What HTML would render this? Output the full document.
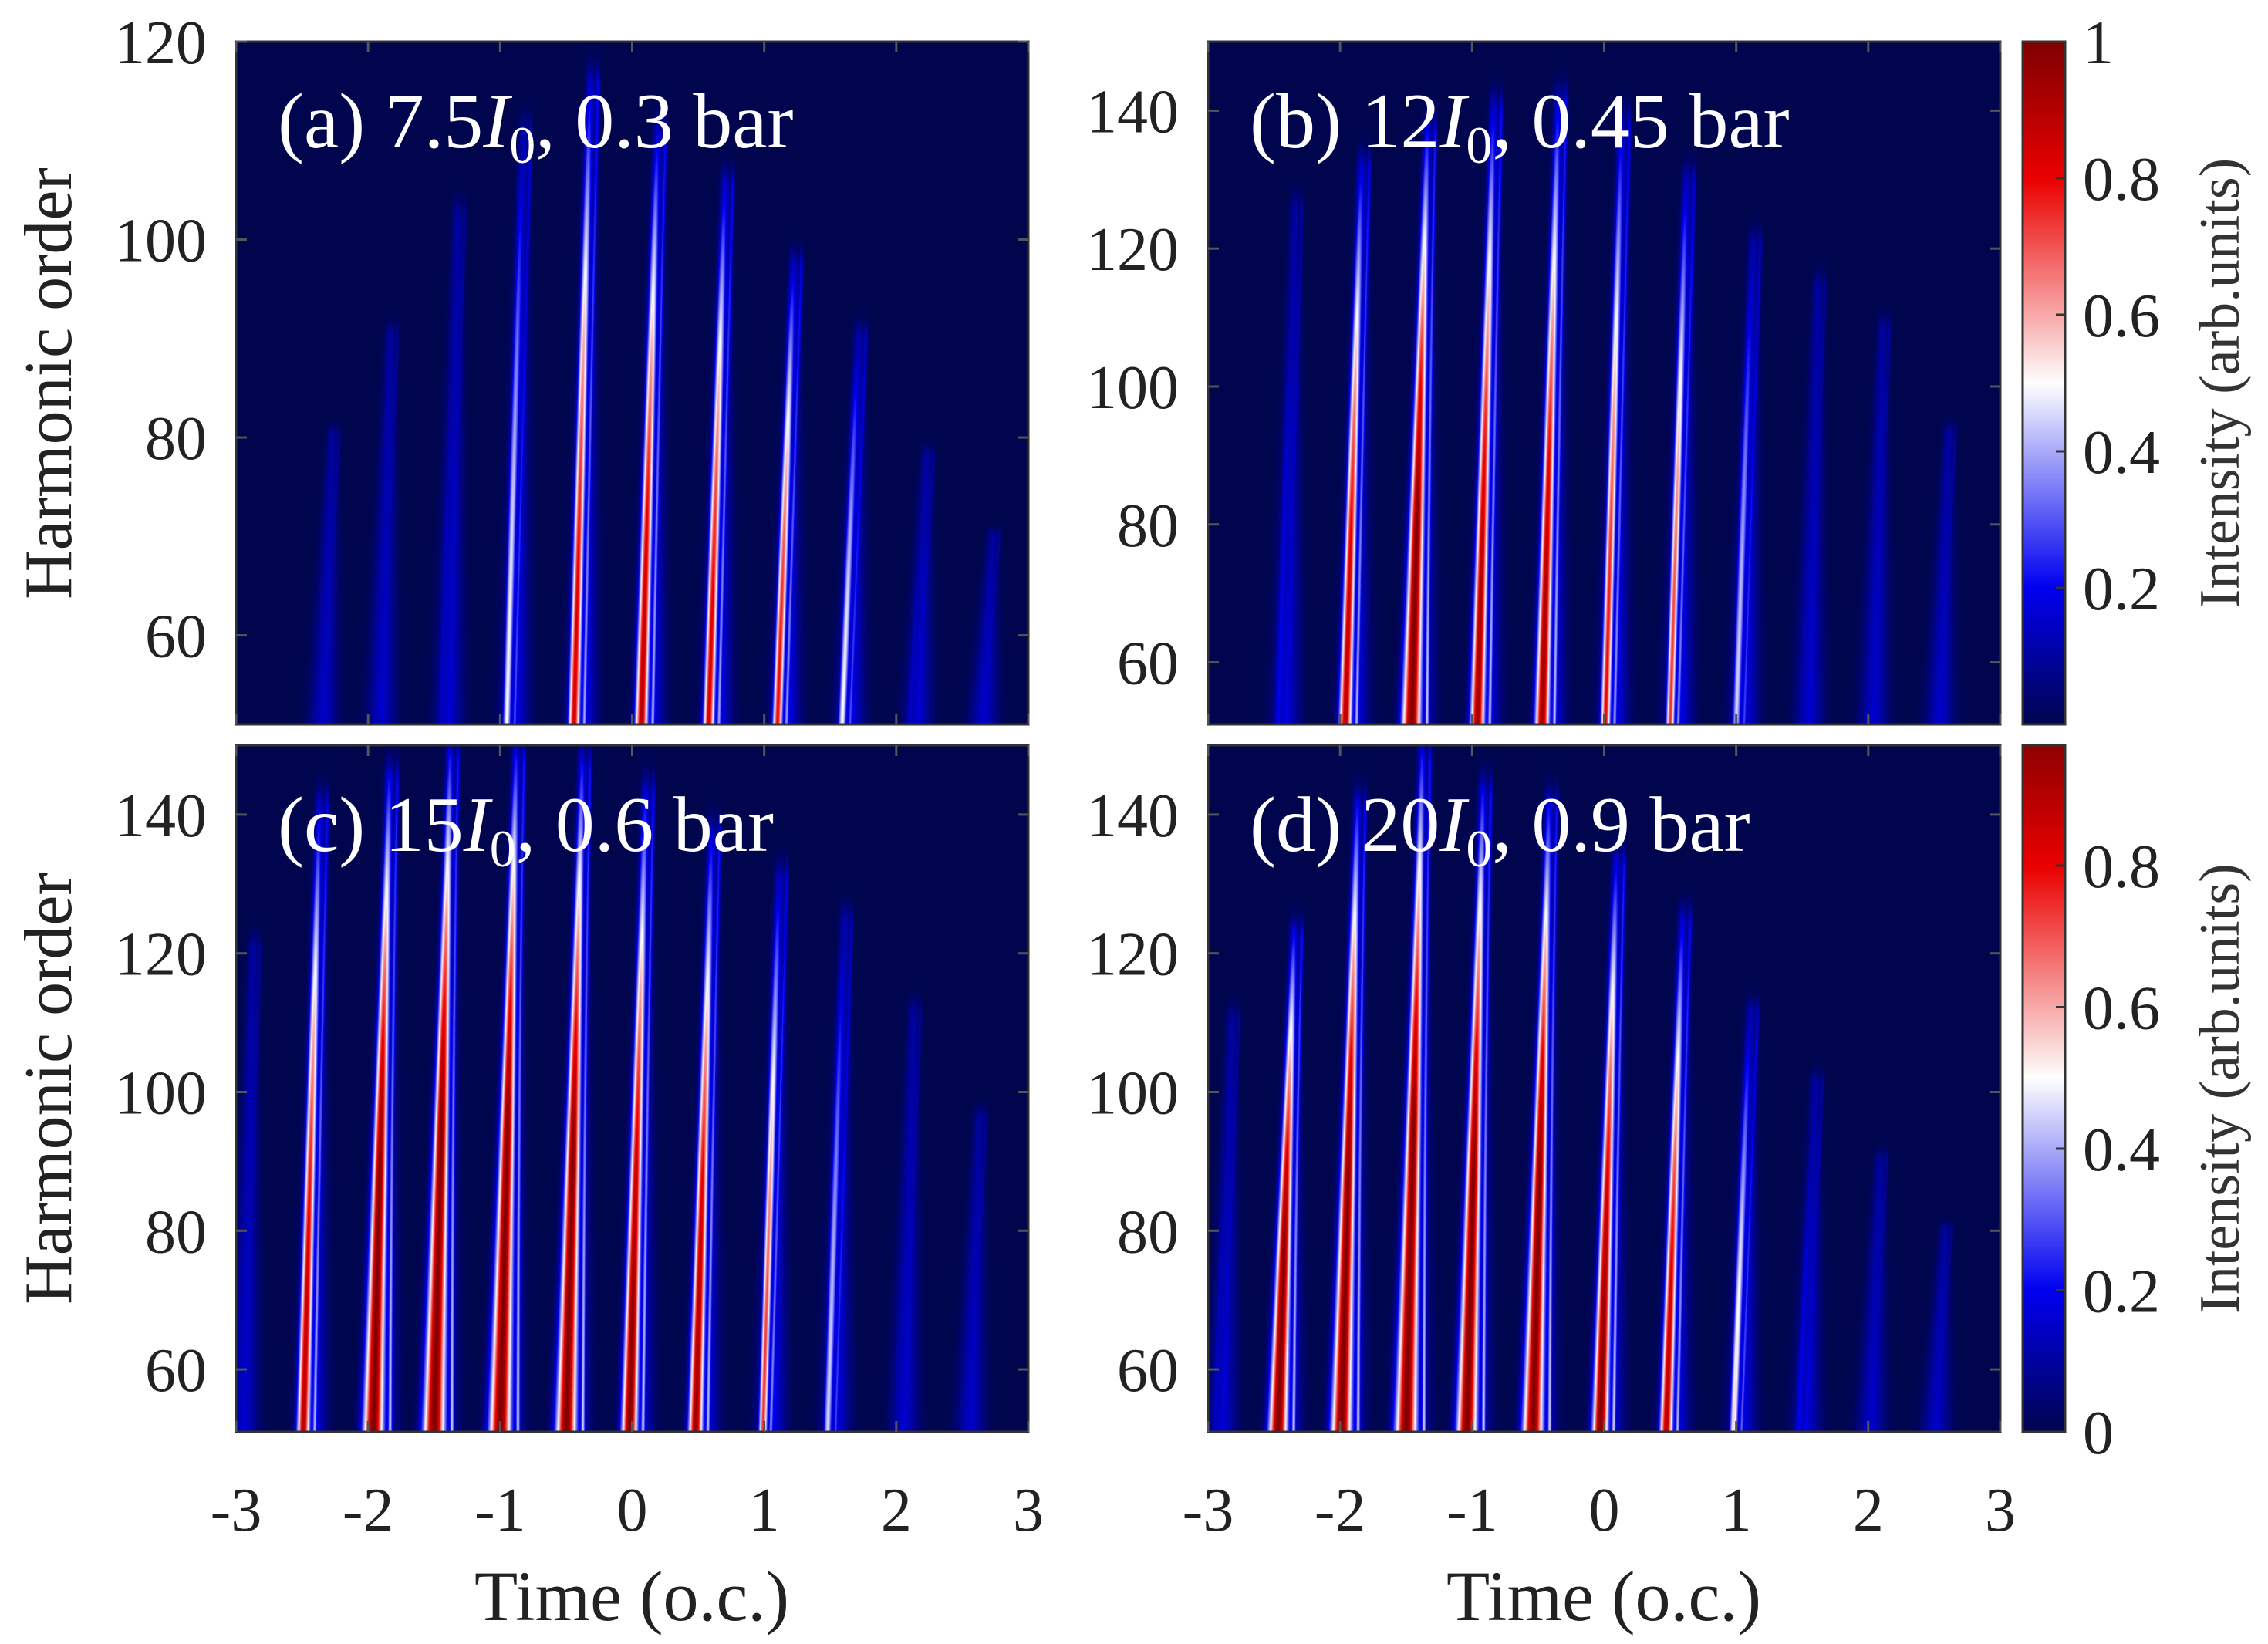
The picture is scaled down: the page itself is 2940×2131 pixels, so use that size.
<!DOCTYPE html>
<html><head><meta charset="utf-8">
<style>
html,body{margin:0;padding:0;background:#fff;}
#root{position:relative;width:2940px;height:2131px;overflow:hidden;font-family:"Liberation Serif",serif;}
canvas{position:absolute;}
svg{position:absolute;left:0;top:0;}
</style></head>
<body>
<div id="root">
<canvas id="ca" width="1027" height="885" style="left:306px;top:54px"></canvas>
<canvas id="cb" width="1027" height="885" style="left:1566px;top:54px"></canvas>
<canvas id="cc" width="1027" height="890" style="left:306px;top:966px"></canvas>
<canvas id="cd" width="1027" height="890" style="left:1566px;top:966px"></canvas>
<canvas id="cb1" width="55" height="885" style="left:2622px;top:54px"></canvas>
<canvas id="cb2" width="55" height="890" style="left:2622px;top:966px"></canvas>
<svg id="ov" width="2940" height="2131"></svg>
</div>
<script>
// Burst data per panel: bottom time (o.c.), cutoff harmonic, peak intensity
const timesA = [-2.4,-1.96,-1.45,-0.95,-0.44,0.07,0.58,1.1,1.59,2.1,2.6];
const cutA   = [80,90,102,110,115,110,105,97,90,78,70];
const peakA  = [0.05,0.1,0.15,0.5,0.85,0.9,0.85,0.8,0.5,0.15,0.1];

const timesB = [-2.47,-1.96,-1.46,-0.96,-0.47,0.01,0.5,1.0,1.49,1.98,2.48];
const cutB   = [125,131,136,139,140,137,129,120,114,108,93];
const peakB  = [0.2,0.9,1.1,0.95,0.95,0.8,0.75,0.45,0.12,0.1,0.08];

const timesC = [-3.0,-2.49,-1.96,-1.5,-1.0,-0.5,-0.02,0.48,0.99,1.48,2.0,2.5];
const cutC   = [120,140,144,147,147,146,142,136,130,124,111,96];
const peakC  = [0.12,0.9,1.15,1.2,1.2,1.15,1.0,0.95,0.75,0.45,0.12,0.08];

const timesD = [-2.95,-2.47,-1.99,-1.5,-1.04,-0.54,-0.03,0.47,0.98,1.47,1.96,2.45];
const cutD   = [110,122,140,147,142,140,132,124,111,101,90,80];
const peakD  = [0.15,1.1,1.15,1.2,1.15,1.15,1.0,0.9,0.55,0.2,0.08,0.06];

const xTicks = [-3,-2,-1,0,1,2,3];
const yTicksA = [60,80,100,120];
const yTicksB = [60,80,100,120,140];
const cbTicks1 = [0.2,0.4,0.6,0.8,1];
const cbTicks2 = [0,0.2,0.4,0.6,0.8];

const stops=[[0,[0,5,78]],[0.2,[0,0,240]],[0.5,[255,255,255]],[0.8,[235,0,0]],[1,[128,0,0]]];
function cmap(v){v=Math.max(0,Math.min(1,v));for(let i=1;i<stops.length;i++){if(v<=stops[i][0]){const a=stops[i-1],b=stops[i];const f=(v-a[0])/(b[0]-a[0]);return [0,1,2].map(k=>a[1][k]+(b[1][k]-a[1][k])*f);}}return stops[stops.length-1][1];}

function drawPanel(id,times,cuts,peaks,ymin,ymax){
  const cv=document.getElementById(id),ctx=cv.getContext('2d');const W=cv.width,H=cv.height;
  const img=ctx.createImageData(W,H);const d=img.data;
  const tilt=0.12;
  for(let py=0;py<H;py++){
    const h=ymax-(py+0.5)/H*(ymax-ymin);
    const bs=[];
    for(let i=0;i<times.length;i++){
      const cut=cuts[i];let fr=(h-ymin)/(cut-ymin);if(fr>1.1)continue;
      const fc=Math.max(0,Math.min(1,fr));
      const fade=fr>1?Math.exp(-Math.pow((fr-1)/0.04,2)):1;
      const xs=times[i]+tilt*fc;
      const pk=peaks[i];
      const Is=Math.min(1,pk*(1-0.8*fc*fc))*fade;
      const strength=Math.max(0,pk-0.75)/0.45;
      const w=0.03+0.05*strength*Math.pow(1-fc,1.5);
      const edge=xs+1.5*w+0.015;
      const Ie=Math.min(0.45,0.15+0.3*pk)*fade*(1-0.5*fc);
      const ha=(0.14+0.08*Math.min(1,pk))*(1-0.3*fc)*fade;
      const hw=0.09*(1-0.7*fc)+0.012;
      bs.push([xs,Is,w,edge,Ie,xs+0.05*(1-fc)+0.01,hw,ha]);
    }
    for(let px=0;px<W;px++){
      const t=-3+(px+0.5)/W*6;let v=0;
      for(const b of bs){
        const ds=(t-b[0])/b[2];const s=b[1]*Math.exp(-ds*ds);
        const de=(t-b[3])/0.016;const e=b[4]*Math.exp(-de*de);
        const dh=(t-b[5])/b[6];const hv=b[7]*Math.exp(-dh*dh);
        const m=Math.max(s,e,hv);if(m>v)v=m;
      }
      const c=cmap(v);const o=(py*W+px)*4;d[o]=c[0];d[o+1]=c[1];d[o+2]=c[2];d[o+3]=255;
    }
  }
  ctx.putImageData(img,0,0);
}
function drawBar(id,vmax){
  const cv=document.getElementById(id),ctx=cv.getContext('2d');
  for(let y=0;y<cv.height;y++){const c=cmap((1-y/cv.height)*vmax);ctx.fillStyle=`rgb(${c[0]|0},${c[1]|0},${c[2]|0})`;ctx.fillRect(0,y,cv.width,1);}
}
drawPanel('ca',timesA,cutA,peakA,51,120);
drawPanel('cb',timesB,cutB,peakB,51,150);
drawPanel('cc',timesC,cutC,peakC,51,150);
drawPanel('cd',timesD,cutD,peakD,51,150);
drawBar('cb1',1);drawBar('cb2',0.97);

const NS='http://www.w3.org/2000/svg';const ov=document.getElementById('ov');
function el(tag,attrs,txt){const e=document.createElementNS(NS,tag);for(const k in attrs)e.setAttribute(k,attrs[k]);if(txt!==undefined)e.textContent=txt;ov.appendChild(e);return e;}
const panels=[
 {x:306,y:54,w:1027,h:885,ymin:51,ymax:120,yt:yTicksA,xl:false,lab:['(a) 7.5','I','0',', 0.3 bar'],n:'a'},
 {x:1566,y:54,w:1027,h:885,ymin:51,ymax:150,yt:yTicksB,xl:false,lab:['(b) 12','I','0',', 0.45 bar'],n:'b'},
 {x:306,y:966,w:1027,h:890,ymin:51,ymax:150,yt:yTicksB,xl:true,lab:['(c) 15','I','0',', 0.6 bar'],n:'c'},
 {x:1566,y:966,w:1027,h:890,ymin:51,ymax:150,yt:yTicksB,xl:true,lab:['(d) 20','I','0',', 0.9 bar'],n:'d'}];
for(const p of panels){
  const X=t=>p.x+(t+3)/6*p.w, Y=h=>p.y+p.h-(h-p.ymin)/(p.ymax-p.ymin)*p.h;
  const box=el('rect',{x:p.x,y:p.y,width:p.w,height:p.h,fill:'none',stroke:'#333',"stroke-width":3});
  
  
  for(const t of xTicks){
    el('line',{x1:X(t),x2:X(t),y1:p.y+p.h,y2:p.y+p.h-14,stroke:'#555',"stroke-width":3});
    el('line',{x1:X(t),x2:X(t),y1:p.y,y2:p.y+14,stroke:'#555',"stroke-width":3});
    if(p.xl){const tx=el('text',{x:X(t),y:1984,"font-size":80,"text-anchor":"middle",fill:'#222'},t);
      
      }
  }
  for(const h of p.yt){
    el('line',{x1:p.x,x2:p.x+14,y1:Y(h),y2:Y(h),stroke:'#555',"stroke-width":3});
    el('line',{x1:p.x+p.w,x2:p.x+p.w-14,y1:Y(h),y2:Y(h),stroke:'#555',"stroke-width":3});
    const tx=el('text',{x:p.x-38,y:Y(h)+28,"font-size":80,"text-anchor":"end",fill:'#222'},h);
    
    
  }
  if(p.ymax===120){const tx=el('text',{x:p.x-38,y:p.y+28,"font-size":80,"text-anchor":"end",fill:'#222'},120);
    
    }
  const lt=el('text',{x:p.x+54,y:p.y+137,"font-size":102,fill:'#fff'});
  
  
  const s1=document.createElementNS(NS,'tspan');s1.textContent=p.lab[0];lt.appendChild(s1);
  const s2=document.createElementNS(NS,'tspan');s2.setAttribute('font-style','italic');s2.textContent=p.lab[1];lt.appendChild(s2);
  const s3=document.createElementNS(NS,'tspan');s3.setAttribute('font-size','68');s3.setAttribute('dy','20');s3.textContent=p.lab[2];lt.appendChild(s3);
  const s4=document.createElementNS(NS,'tspan');s4.setAttribute('dy','-20');s4.textContent=p.lab[3];lt.appendChild(s4);
}
for(const cy of [497,1411]){const t=el('text',{x:0,y:0,"font-size":88,"text-anchor":"middle",fill:'#222',transform:`translate(92,${cy}) rotate(-90)`},'Harmonic order');
  
  }
for(const cx of [819,2079]){const t=el('text',{x:cx,y:2100,"font-size":92,"text-anchor":"middle",fill:'#222'},'Time (o.c.)');
  
  }
const cbs=[{y:54,h:885,vmax:1,ticks:cbTicks1},{y:966,h:890,vmax:0.97,ticks:cbTicks2}];
for(const c of cbs){
  el('rect',{x:2622,y:c.y,width:55,height:c.h,fill:'none',stroke:'#333',"stroke-width":3});
  for(const v of c.ticks){const yy=c.y+c.h-v/c.vmax*c.h;
    el('line',{x1:2677,x2:2665,y1:yy,y2:yy,stroke:'#333',"stroke-width":3});
    const t=el('text',{x:2700,y:yy+28,"font-size":80,fill:'#222'},String(v));
    
    }
  const t=el('text',{x:0,y:0,"font-size":74,"text-anchor":"middle",fill:'#333',transform:`translate(2902,${c.y+c.h/2}) rotate(-90)`},'Intensity (arb.units)');
  
  
}
</script>
</body></html>
